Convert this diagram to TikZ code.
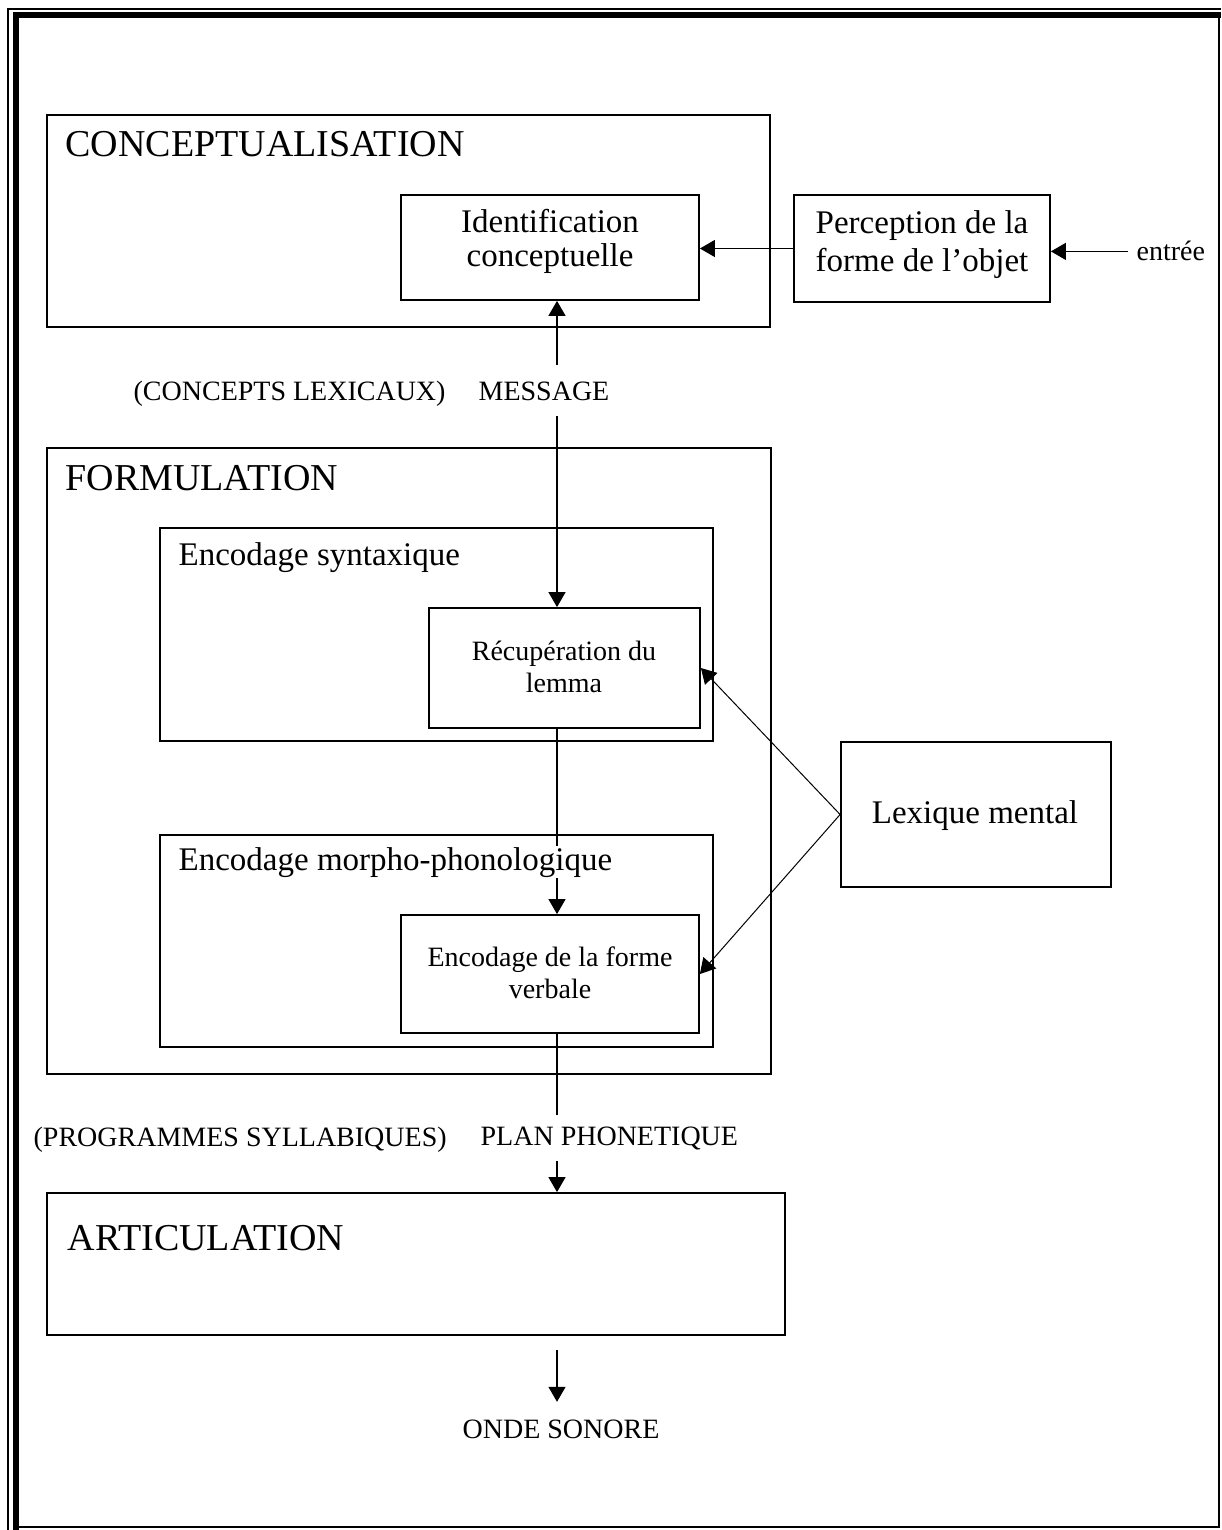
\documentclass[tikz,border=0pt]{standalone}
\usepackage{fontspec}
\setmainfont{Liberation Serif}
\usetikzlibrary{arrows.meta, fit}

\tikzset{
  box/.style = {draw, line width=0.9pt, inner sep=0pt},
  txt/.style = {inner sep=0pt, anchor=base west},
  title/.style = {txt, font=\fontsize{19}{21}\selectfont},
  big/.style = {font=\fontsize{16.5}{18}\selectfont},
  >={Triangle[length=7.5pt, width=8.5pt]},
}

\begin{document}
\begin{tikzpicture}[x=0.5pt, y=-0.5pt, line width=0.65pt,
    every node/.append style={font=\fontsize{14}{16}\selectfont}]
  \useasboundingbox (0,0) rectangle (1221,1530);

  % page frame
  \draw[line width=0.75pt] (8,1530) -- (8,9) -- (1221,9);
  \draw[line width=3pt] (15.5,1530) -- (15.5,15.5) -- (1221,15.5);
  \draw[line width=1pt] (18,1527) -- (1219,1527) -- (1219,18);

  % boxes
  \node[box, fit={(47,115) (770,327)}] (concept) {};
  \node[box, fit={(401,195) (699,300)}] (idcon) {};
  \node[box, fit={(794,195) (1050,302)}] (percep) {};
  \node[box, fit={(47,448) (771,1074)}] (formul) {};
  \node[box, fit={(160,528) (713,741)}] (syntax) {};
  \node[box, fit={(429,608) (700,728)}] (recup) {};
  \node[box, fit={(160,835) (713,1047)}] (morpho) {};
  \node[box, fit={(401,915) (699,1033)}] (forme) {};
  \node[box, fit={(841,742) (1111,887)}] (lex) {};
  \node[box, fit={(47,1193) (785,1335)}] (artic) {};

  \coordinate (axis) at (557,0);

  % texts
  \node[title] at (65,157) {CONCEPTUALISATION};
  \node[title] at (65,490) {FORMULATION};
  \node[title] at (67,1250) {ARTICULATION};
  \node[align=center, inner sep=0pt, anchor=base,
        font=\fontsize{16.5}{17}\selectfont] at (550,266) {Identification\\conceptuelle};
  \node[align=center, inner sep=0pt, anchor=base,
        font=\fontsize{16.5}{19}\selectfont] at (922,271) {Perception de la\\forme de l'objet};
  \node[txt] (entree) at (1136,261) {entrée};
  \node[txt] at (133,400) {(CONCEPTS LEXICAUX)};
  \node[txt, big] at (178,565) {Encodage syntaxique};
  \node[align=center, inner sep=0pt, anchor=base] at (564,692) {Récupération du\\lemma};
  \node[align=center, inner sep=0pt, anchor=base] at (550,998) {Encodage de la forme\\verbale};
  \node[big, inner sep=0pt, anchor=base] at (975,823) {Lexique mental};
  \node[txt] at (33,1146) {(PROGRAMMES SYLLABIQUES)};
  \node[txt] (onde) at (462,1438) {ONDE SONORE};

  % connectors
  \draw[->] (percep.west) -- (percep.west -| idcon.east);
  \draw[->, shorten <=4pt] (entree.west) -- (entree.west -| percep.east);
  \draw[<->] (idcon.south -| axis) -- (recup.north -| axis);
  \draw[->] (recup.south -| axis) -- (forme.north -| axis);
  \draw[->] (forme.south -| axis) -- (artic.north -| axis);
  \draw[->, shorten <=7pt, shorten >=8.5pt] (artic.south -| axis) -- (onde.north -| axis);
  \draw[->, line width=0.5pt] (lex.west) -- (recup.east);
  \draw[->, line width=0.5pt] (lex.west) -- (forme.east);

  % labels over the lines
  \node[txt, inner ysep=8pt, fill=white] at (478,400) {MESSAGE};
  \node[txt, big, inner ysep=0.5pt, fill=white] at (178,870) {Encodage morpho-phonologique};
  \node[txt, inner ysep=5.5pt, fill=white] at (480,1145) {PLAN PHONETIQUE};
\end{tikzpicture}
\end{document}
